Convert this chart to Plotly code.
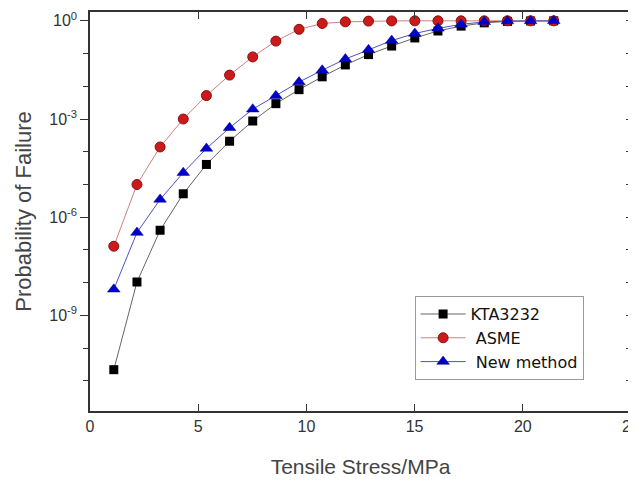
import plotly.graph_objects as go

stress = [1.1, 2.17, 3.24, 4.31, 5.38, 6.45, 7.52, 8.59, 9.66, 10.73,
          11.8, 12.87, 13.94, 15.01, 16.08, 17.15, 18.22, 19.29, 20.36, 21.43]

kta3232 = [2.2e-11, 1.05e-8, 4.0e-7, 5.2e-6, 4.1e-5, 2.1e-4, 8.7e-4, 2.95e-3, 7.9e-3, 1.95e-2,
           4.5e-2, 9.3e-2, 0.17, 0.30, 0.49, 0.69, 0.87, 0.96, 0.99, 1.0]
asme = [1.3e-7, 1.0e-5, 1.4e-4, 1.0e-3, 5.2e-3, 2.2e-2, 7.9e-2, 0.24, 0.55, 0.83,
        0.93, 0.98, 0.995, 1.0, 1.0, 1.0, 1.0, 1.0, 1.0, 1.0]
new_method = [6.3e-9, 3.4e-7, 3.5e-6, 2.3e-5, 1.26e-4, 5.4e-4, 2.0e-3, 5.1e-3, 1.35e-2, 3.1e-2,
              6.8e-2, 0.13, 0.25, 0.41, 0.59, 0.78, 0.93, 0.98, 0.995, 1.0]

x_ticks = [0, 5, 10, 15, 20, 25]
y_major = [1e-12, 1e-9, 1e-6, 1e-3, 1]
y_major_text = ["10<sup>-12</sup>", "10<sup>-9</sup>", "10<sup>-6</sup>", "10<sup>-3</sup>", "10<sup>0</sup>"]
y_minor = [10.0 ** e for e in range(-12, 1)]

fig = go.Figure()
fig.add_trace(go.Scatter(
    x=stress, y=kta3232, name="KTA3232", mode="lines+markers",
    line=dict(color="#666666", width=1),
    marker=dict(symbol="square", size=9, color="#000000"),
))
fig.add_trace(go.Scatter(
    x=stress, y=asme, name=" ASME", mode="lines+markers",
    line=dict(color="#d08080", width=1),
    marker=dict(symbol="circle", size=10, color="#cc1a1a", line=dict(color="#8a1010", width=1)),
))
fig.add_trace(go.Scatter(
    x=stress, y=new_method, name=" New method", mode="lines+markers",
    line=dict(color="#5050c8", width=1),
    marker=dict(symbol="triangle-up", size=11, color="#0000cc", line=dict(color="#000088", width=0.5)),
))
# invisible trace to carry right-hand axis
fig.add_trace(go.Scatter(
    x=stress, y=kta3232, yaxis="y2", mode="markers", showlegend=False,
    marker=dict(opacity=0), hoverinfo="skip",
))

yrange = [-11.92, 0.27]
fig.update_layout(
    width=628, height=472,
    margin=dict(l=82, r=5, t=4, b=69, autoexpand=False),
    paper_bgcolor="white", plot_bgcolor="white",
    font=dict(family="Liberation Sans, Arial, sans-serif", color="#333333"),
    xaxis=dict(
        range=[0, 25], tickvals=x_ticks, ticks="inside", ticklen=7, tickwidth=1.2,
        tickcolor="#333333", showline=True, linecolor="#333333", linewidth=1.5,
        mirror="ticks", showgrid=False, zeroline=False, automargin=False,
        ticklabeloverflow="allow",
        tickfont=dict(size=16, color="#333333"),
        title=dict(text="Tensile Stress/MPa", font=dict(size=21, color="#444444"), standoff=25),
    ),
    yaxis=dict(
        type="log", range=yrange, tickvals=y_major, ticktext=y_major_text,
        ticks="outside", ticklen=8, tickwidth=1.2, tickcolor="#333333",
        showline=True, linecolor="#333333", linewidth=1.5, mirror=True,
        showgrid=False, zeroline=False, automargin=False,
        tickfont=dict(size=16, color="#333333"),
        minor=dict(tickvals=y_minor, ticks="outside", ticklen=5, tickcolor="#333333", showgrid=False),
        title=dict(text="Probability of Failure", font=dict(size=22, color="#444444"), standoff=12),
    ),
    yaxis2=dict(
        type="log", range=yrange, overlaying="y", side="right",
        tickvals=y_minor, ticks="inside", ticklen=5, tickcolor="#333333",
        showticklabels=False, showgrid=False, zeroline=False, showline=False, automargin=False,
    ),
    legend=dict(
        x=0.60, y=0.288, xanchor="left", yanchor="top",
        bgcolor="white", bordercolor="#999999", borderwidth=1, itemwidth=45,
        font=dict(family="DejaVu Sans, sans-serif", size=16, color="#111111"), tracegroupgap=0,
    ),
)

fig.write_html("out.html")
